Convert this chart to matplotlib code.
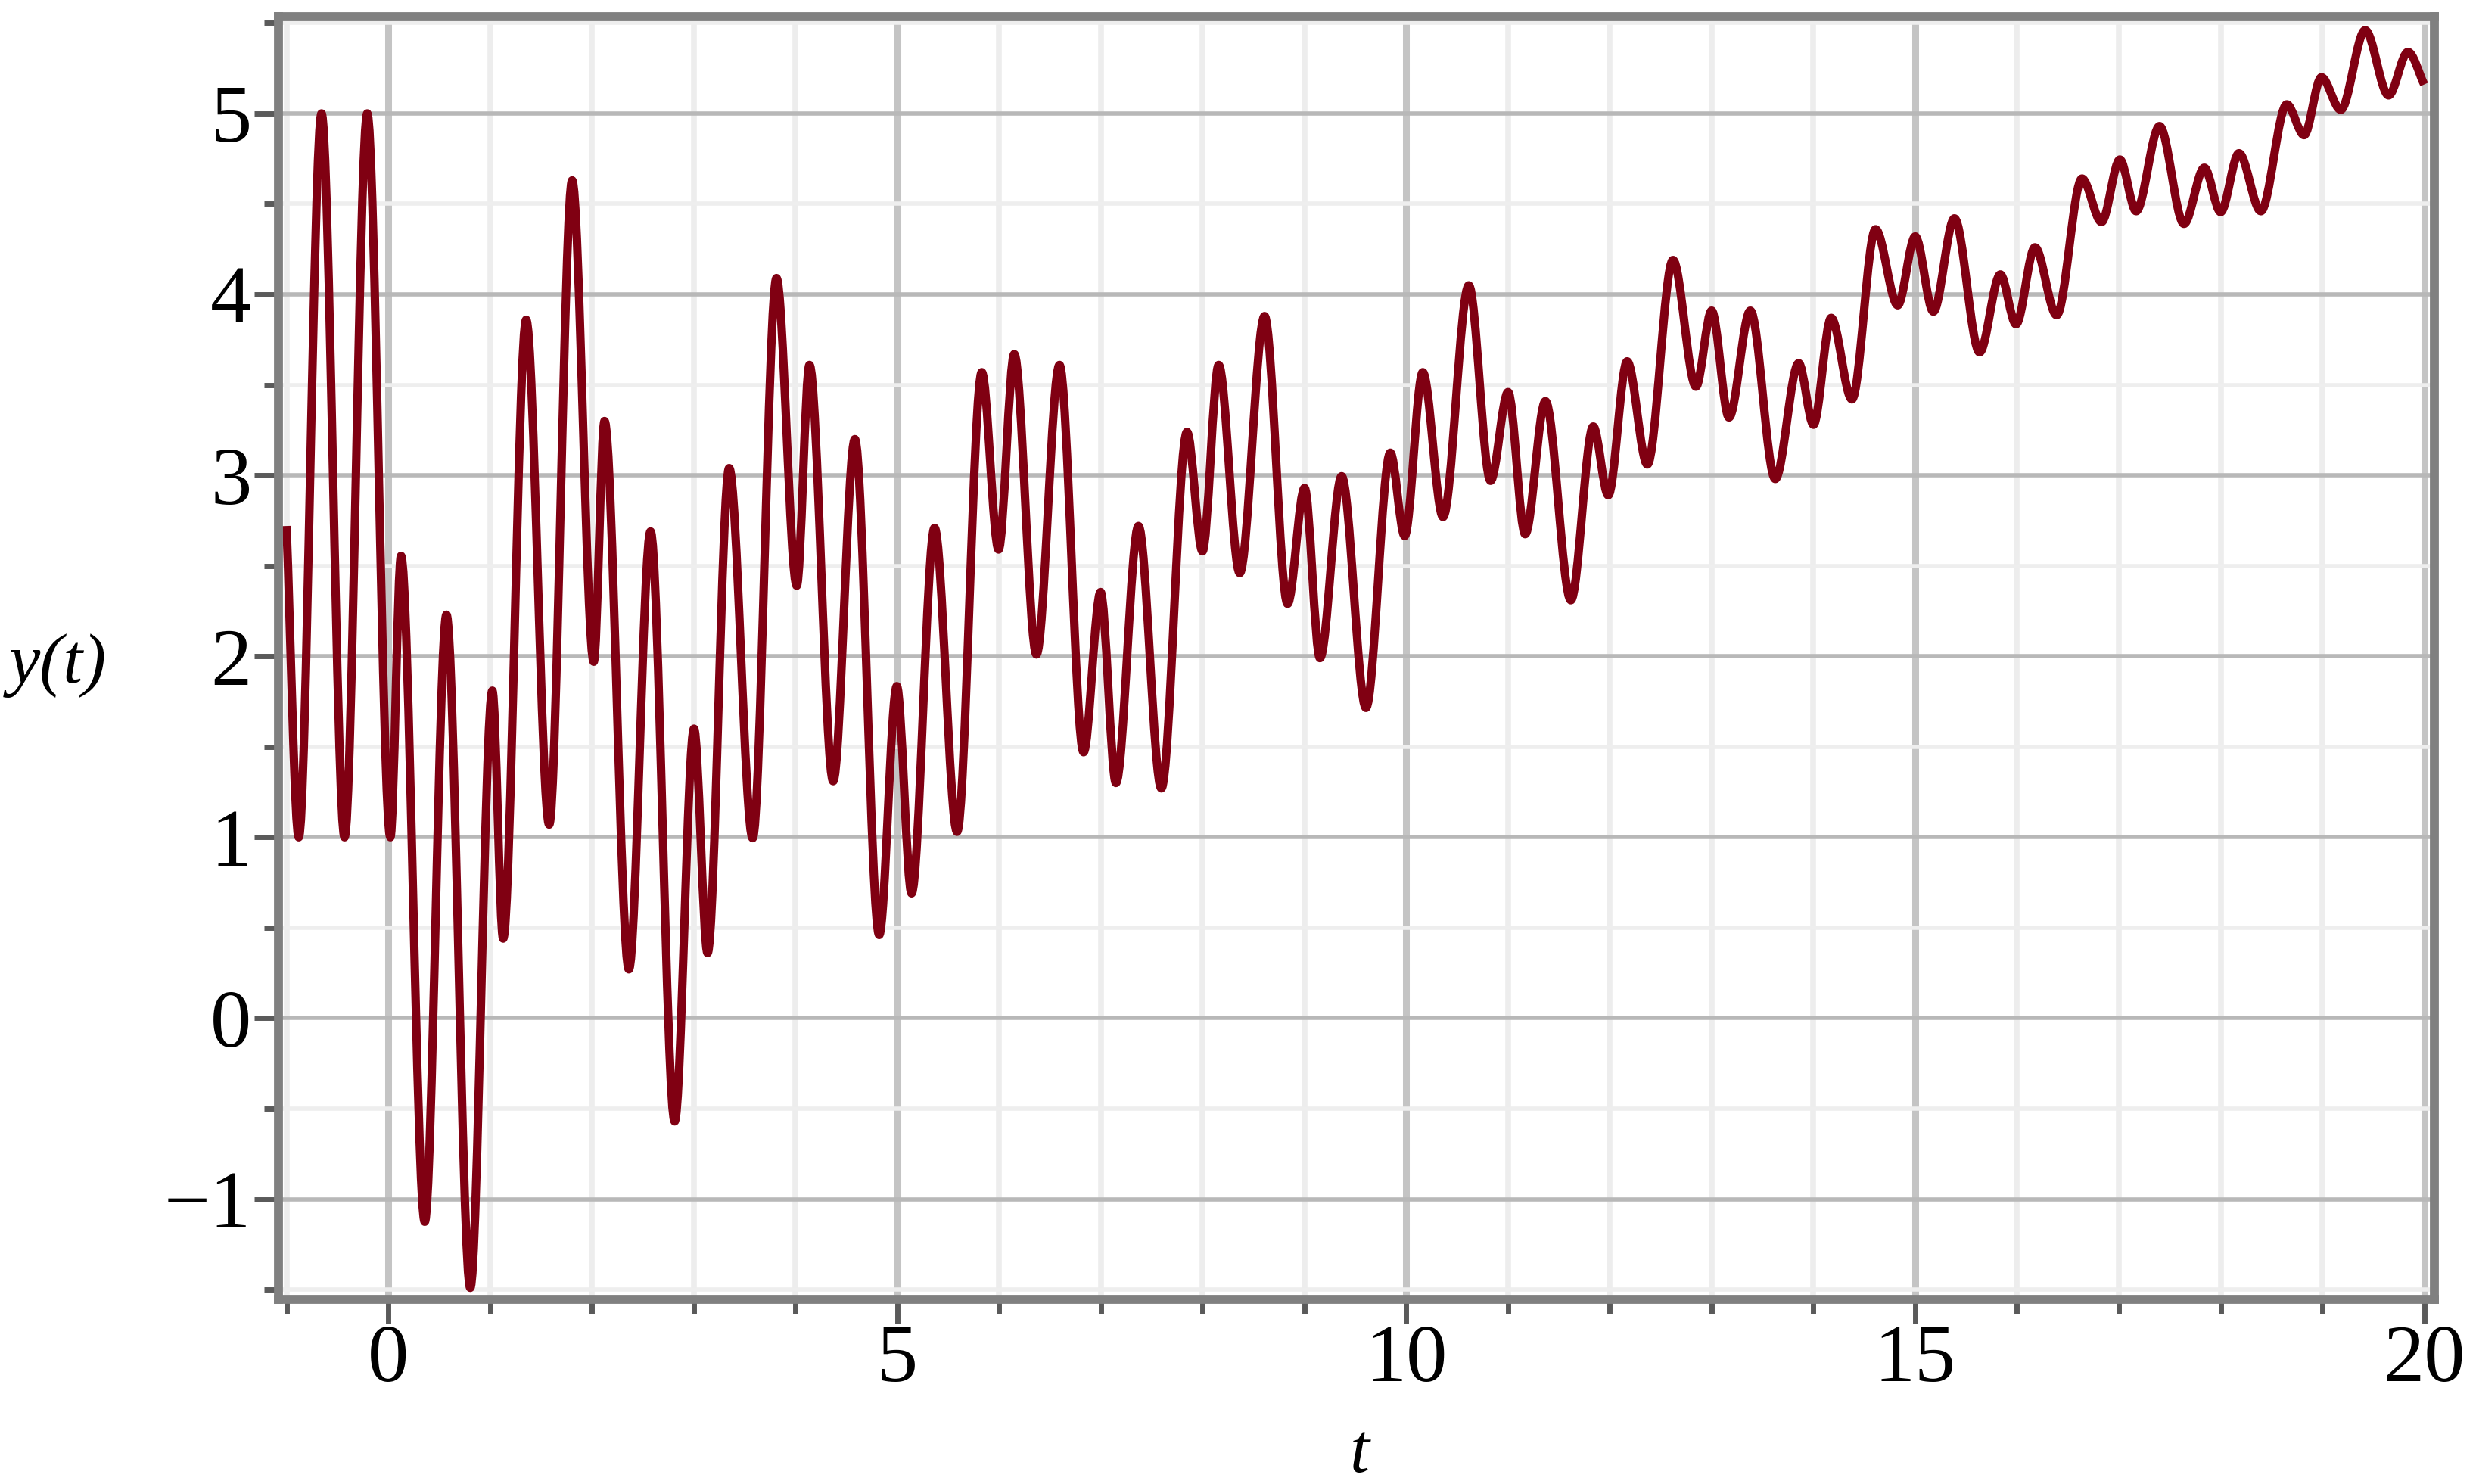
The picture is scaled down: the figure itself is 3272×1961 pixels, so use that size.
# coding: utf-8

import matplotlib
matplotlib.use('Agg')
import matplotlib.pyplot as plt
from matplotlib.path import Path
from matplotlib.patches import PathPatch
from matplotlib.ticker import MultipleLocator, FixedLocator

plt.rcParams['font.family'] = ['Liberation Serif', 'DejaVu Serif']

# turning points of y(t) (first and last are the ends)
t_ext = [-1.0, -0.88, -0.656, -0.43, -0.207, 0.02, 0.125, 0.358, 0.571, 0.805,
         1.022, 1.128, 1.354, 1.58, 1.806, 2.018, 2.124, 2.363, 2.576, 2.813,
         3.003, 3.136, 3.348, 3.579, 3.813, 4.012, 4.137, 4.37, 4.583, 4.822,
         4.995, 5.14, 5.366, 5.587, 5.83, 5.995, 6.149, 6.367, 6.593, 6.83,
         6.997, 7.148, 7.369, 7.594, 7.846, 7.998, 8.157, 8.364, 8.608, 8.834,
         9.001, 9.152, 9.365, 9.604, 9.843, 9.984, 10.162, 10.361, 10.614, 10.828,
         11.0, 11.168, 11.367, 11.617, 11.837, 11.984, 12.17, 12.368, 12.62, 12.846,
         13.0, 13.17, 13.38, 13.625, 13.855, 14.0, 14.174, 14.378, 14.61, 14.828,
         15.0, 15.178, 15.385, 15.632, 15.836, 15.99, 16.176, 16.389, 16.638, 16.83,
         17.01, 17.17, 17.4, 17.64, 17.84, 18.0, 18.18, 18.395, 18.65, 18.82,
         18.99, 19.18, 19.42, 19.65, 19.84, 20.0]
y_ext = [2.72, 1.0, 5.0, 1.0, 5.0, 1.0, 2.555, -1.125, 2.23, -1.49,
         1.81, 0.44, 3.86, 1.07, 4.63, 1.97, 3.30, 0.27, 2.69, -0.57,
         1.60, 0.36, 3.04, 0.995, 4.09, 2.39, 3.61, 1.31, 3.20, 0.46,
         1.835, 0.69, 2.71, 1.03, 3.57, 2.59, 3.67, 2.01, 3.61, 1.47,
         2.355, 1.30, 2.72, 1.27, 3.24, 2.58, 3.61, 2.46, 3.88, 2.29,
         2.93, 1.99, 2.995, 1.715, 3.125, 2.665, 3.57, 2.77, 4.05, 2.97,
         3.46, 2.675, 3.41, 2.31, 3.27, 2.89, 3.63, 3.06, 4.19, 3.49,
         3.91, 3.32, 3.91, 2.98, 3.62, 3.28, 3.87, 3.42, 4.36, 3.94,
         4.32, 3.905, 4.42, 3.68, 4.11, 3.835, 4.26, 3.885, 4.64, 4.40,
         4.745, 4.46, 4.93, 4.39, 4.70, 4.455, 4.78, 4.46, 5.05, 4.88,
         5.2, 5.02, 5.46, 5.10, 5.34, 5.16]

x_ticks = [0, 5, 10, 15, 20]
y_ticks = [-1, 0, 1, 2, 3, 4, 5]

curve_color = '#800012'
axis_gray = '#808080'


def smooth_path(ts, ys):
    # cubic pieces with flat tangents at each turning point
    verts = [(ts[0], ys[0])]
    codes = [Path.MOVETO]
    n = len(ts)
    for i in range(n - 1):
        t0, y0, t1, y1 = ts[i], ys[i], ts[i + 1], ys[i + 1]
        dt = t1 - t0
        c1y = y0
        c2y = y1
        if i == 0:
            c1y = y0 + (y1 - y0) / 3.
        if i == n - 2:
            c2y = y1 - (y1 - y0) / 3.
        verts += [(t0 + dt / 3., c1y), (t1 - dt / 3., c2y), (t1, y1)]
        codes += [Path.CURVE4] * 3
    return Path(verts, codes)


fig = plt.figure(figsize=(32.72, 19.61), dpi=100)
ax = fig.add_axes([0.1126, 0.1244, 0.8706, 0.8644])

ax.set_xlim(-1.076, 20.1)
ax.set_ylim(-1.554, 5.535)

ax.xaxis.set_major_locator(FixedLocator(x_ticks))
ax.xaxis.set_minor_locator(MultipleLocator(1))
ax.yaxis.set_major_locator(FixedLocator(y_ticks))
ax.yaxis.set_minor_locator(MultipleLocator(0.5))

ax.set_axisbelow(True)
ax.grid(axis='x', which='major', color='#c4c4c4', lw=6.5)
ax.grid(axis='x', which='minor', color='#ededed', lw=5.5)
ax.grid(axis='y', which='major', color='#b8b8b8', lw=4.0)
ax.grid(axis='y', which='minor', color='#eeeeee', lw=4.0)

patch = PathPatch(smooth_path(t_ext, y_ext), facecolor='none',
                  edgecolor=curve_color, lw=8, joinstyle='round', zorder=3)
ax.add_patch(patch)

for side in ['left', 'right', 'top', 'bottom']:
    ax.spines[side].set_color(axis_gray)
    ax.spines[side].set_linewidth(8.5)
    ax.spines[side].set_zorder(4)

ax.tick_params(which='major', direction='out', length=23, width=5,
               color='#5a5a5a', labelsize=78)
ax.tick_params(which='minor', direction='out', length=14, width=5,
               color='#5a5a5a')
ax.tick_params(axis='x', which='major', pad=1)
ax.tick_params(axis='y', which='major', pad=3)

ax.set_xlabel('t', fontsize=67, fontstyle='italic', va='center')
ax.xaxis.set_label_coords(0.5015, -0.121)
ax.set_ylabel('y(t)', fontsize=67, fontstyle='italic', rotation=0,
              ha='center', va='center')
ax.yaxis.set_label_coords(-0.1025, 0.494)

plt.savefig('out.png', dpi=100)
